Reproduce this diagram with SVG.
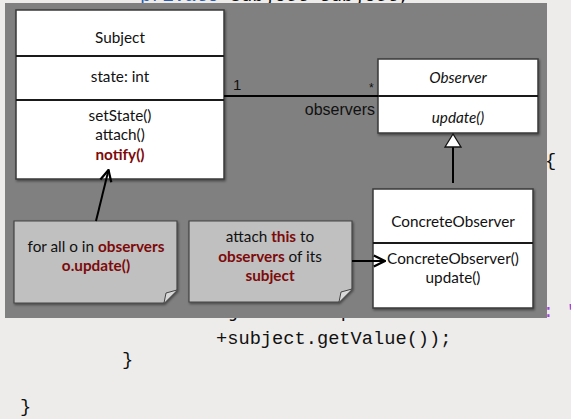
<svg xmlns="http://www.w3.org/2000/svg" width="571" height="419" viewBox="0 0 571 419">
  <style>
    .code { font-family: "Liberation Mono", "DejaVu Sans Mono", monospace; font-size: 18.7px; fill: #111; }
    .kw { fill: #2a5db0; }
    .str { fill: #a040e0; }
    .box { fill: #fff; stroke: #3a3a3a; stroke-width: 1.5; filter: url(#shadow); }
    .note { fill: #c0c0c0; stroke: #444; stroke-width: 1.2; filter: url(#shadow); }
    .div { stroke: #1a1a1a; stroke-width: 2.2; }
    .t { font-family: Lato, "Open Sans", "Liberation Sans", sans-serif; font-size: 15.3px; fill: #111; text-anchor: middle; }
    .it { font-style: italic; }
    .hl { fill: #7d0a0a; font-weight: bold; }
    .lbl { font-family: "Liberation Sans", Arial, sans-serif; fill: #111; }
    .edge { stroke: #000; stroke-width: 2; fill: none; }
  </style>
  <defs>
    <filter id="shadow" x="-10%" y="-10%" width="130%" height="130%">
      <feDropShadow dx="1" dy="1.5" stdDeviation="1" flood-color="#000" flood-opacity="0.45"/>
    </filter>
    <marker id="open" viewBox="0 0 10 10" refX="9" refY="5" markerWidth="7" markerHeight="7" orient="auto">
      <path d="M1,1 L9,5 L1,9" fill="none" stroke="#000" stroke-width="1.6"/>
    </marker>
  </defs>

  <!-- page background with surrounding source code -->
  <rect width="571" height="419" fill="#edecea"/>
  <text class="code" x="140" y="1.2"><tspan class="kw">private</tspan> Subject subject;</text>
  <text class="code" x="545" y="166">{</text>
  <text class="code" x="195" y="317">subject has updated the counter<tspan class="str">: '</tspan></text>
  <text class="code" x="216" y="344">+subject.getValue());</text>
  <text class="code" x="122" y="365">}</text>
  <text class="code" x="20" y="412">}</text>

  <!-- slide panel -->
  <rect x="5" y="3" width="542" height="315" fill="#808080"/>

  <g id="subject">
    <rect class="box" x="16" y="10" width="208" height="169"/>
    <line class="div" x1="16" y1="56" x2="224" y2="56"/>
    <line class="div" x1="16" y1="100" x2="224" y2="100"/>
    <text class="t" x="120" y="43">Subject</text>
    <text class="t" x="120" y="82">state: int</text>
    <text class="t" x="120" y="121">setState()</text>
    <text class="t" x="120" y="140">attach()</text>
    <text class="t hl" x="120" y="160">notify()</text>
  </g>

  <g id="observer">
    <rect class="box" x="378" y="59" width="160" height="74"/>
    <line class="div" x1="378" y1="96" x2="538" y2="96"/>
    <text class="t it" x="458" y="83">Observer</text>
    <text class="t it" x="458" y="123">update()</text>
  </g>

  <g id="concrete-observer">
    <rect class="box" x="373" y="189" width="160" height="119"/>
    <line class="div" x1="373" y1="243" x2="533" y2="243"/>
    <text class="t" x="453" y="227">ConcreteObserver</text>
    <text class="t" x="453" y="264">ConcreteObserver()</text>
    <text class="t" x="453" y="283">update()</text>
  </g>

  <g id="note-notify">
    <path class="note" d="M14,221 H177 V290 L164,303 H14 Z"/>
    <path d="M164,303 L166,293 L177,290" fill="#d8d8d8" stroke="#444" stroke-width="1"/>
    <text class="t" x="96" y="252">for all o in <tspan class="hl">observers</tspan></text>
    <text class="t hl" x="96" y="271">o.update()</text>
  </g>

  <g id="note-attach">
    <path class="note" d="M189,221 H352 V289 L339,302 H189 Z"/>
    <path d="M339,302 L341,292 L352,289" fill="#d8d8d8" stroke="#444" stroke-width="1"/>
    <text class="t" x="270" y="242">attach <tspan class="hl">this</tspan> to</text>
    <text class="t" x="270" y="262"><tspan class="hl">observers</tspan> of its</text>
    <text class="t hl" x="270" y="281">subject</text>
  </g>

  <g id="connectors">
    <!-- association Subject 1 — * Observer -->
    <line class="edge" x1="224" y1="96" x2="378" y2="96"/>
    <text class="lbl" x="233" y="90" font-size="15">1</text>
    <text class="lbl" x="369" y="92" font-size="12">*</text>
    <text class="lbl" x="375" y="115" font-size="16" text-anchor="end">observers</text>
    <!-- generalization -->
    <line class="edge" x1="453" y1="147" x2="453" y2="183"/>
    <path d="M453,134 L445,147 L461,147 Z" fill="#fff" stroke="#111" stroke-width="1.3"/>
    <!-- note links -->
    <line class="edge" x1="96" y1="221" x2="108.5" y2="170" marker-end="url(#open)"/>
    <line class="edge" x1="352" y1="261" x2="385" y2="261" marker-end="url(#open)"/>
  </g>
</svg>
